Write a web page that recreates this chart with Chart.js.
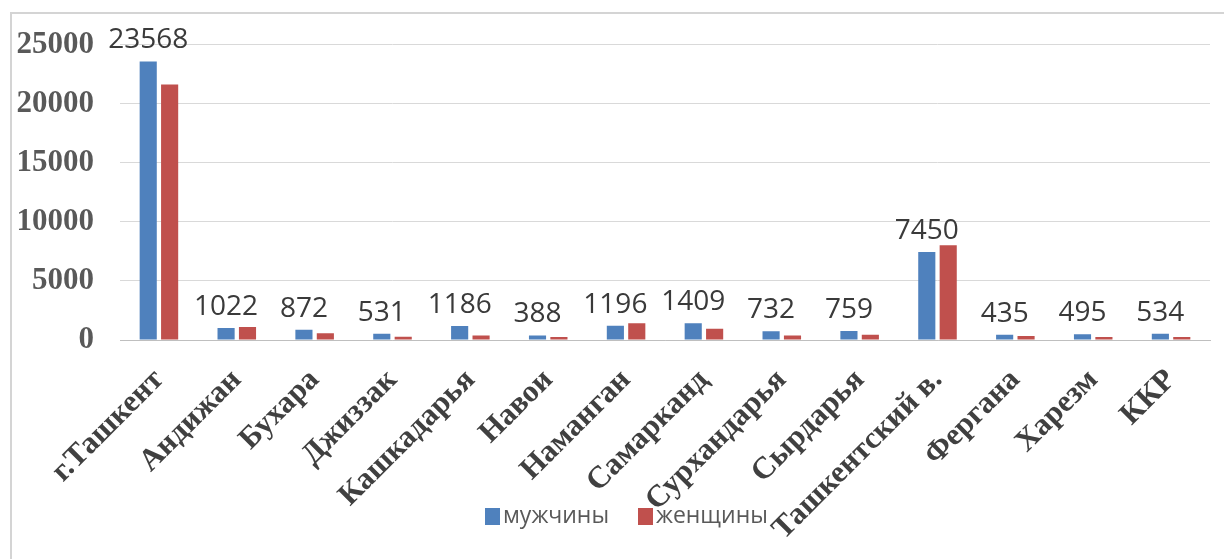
<!DOCTYPE html>
<html>
<head>
<meta charset="utf-8">
<script src="https://cdn.jsdelivr.net/npm/chart.js@4"></script>
<style>
  html, body { margin: 0; padding: 0; background: #ffffff; }
  #wrap { position: relative; width: 1224px; height: 559px; overflow: hidden; }
  #frame { position: absolute; left: 10px; top: 12px; width: 1240px; height: 600px;
           border-top: 2px solid #d4d4d4; border-left: 2px solid #d4d4d4; }
  #chart { position: absolute; left: 0; top: 0; }
  .leg { position: absolute; top: 498px; font-family: "Open Sans", sans-serif;
         font-size: 23px; color: #595959; white-space: nowrap; }
  .leg span.box { display: inline-block; width: 15px; height: 17px; vertical-align: -2px; margin-right: 3px; }
</style>
</head>
<body>
<div id="wrap">
  <div id="frame"></div>
  <canvas id="chart" width="1224" height="559"></canvas>
</div>
<script>
// Регионы
const regions = ["г.Ташкент", "Андижан", "Бухара", "Джиззак", "Кашкадарья", "Навои", "Наманган",
  "Самарканд", "Сурхандарья", "Сырдарья", "Ташкентский в.", "Фергана", "Харезм", "ККР"];

// Значения по сериям
const men = [23568, 1022, 872, 531, 1186, 388, 1196, 1409, 732, 759, 7450, 435, 495, 534];
const women = [21630, 1100, 580, 280, 380, 260, 1420, 960, 380, 450, 8010, 340, 250, 250];

const seriesNames = ["мужчины", "женщины"];
const seriesColors = ["#4F81BD", "#C0504D"];

// Деления оси Y
const yTicks = [0, 5000, 10000, 15000, 20000, 25000];

// Подписи значений над синими столбцами
const valueLabels = {
  id: "valueLabels",
  afterDatasetsDraw(chart) {
    const ctx = chart.ctx;
    const meta = chart.getDatasetMeta(0);
    ctx.save();
    ctx.font = "28px 'Open Sans', sans-serif";
    ctx.fillStyle = "#3a3a3a";
    ctx.textAlign = "center";
    ctx.textBaseline = "bottom";
    meta.data.forEach((bar, i) => {
      ctx.fillText(String(men[i]), bar.x, bar.y - 7);
    });
    ctx.restore();
  }
};

const ctx = document.getElementById("chart").getContext("2d");
new Chart(ctx, {
  type: "bar",
  data: {
    labels: regions,
    datasets: [
      { label: seriesNames[0], data: men, backgroundColor: seriesColors[0] },
      { label: seriesNames[1], data: women, backgroundColor: seriesColors[1] }
    ]
  },
  options: {
    responsive: false,
    animation: false,
    categoryPercentage: 0.55,
    barPercentage: 0.8,
    layout: { padding: { left: 0, right: 14, top: 32, bottom: 0 } },
    plugins: {
      legend: { display: false },
      tooltip: { enabled: false }
    },
    scales: {
      x: {
        grid: { display: false },
        border: { color: "#bfbfbf", width: 1 },
        ticks: {
          autoSkip: false,
          minRotation: 45,
          maxRotation: 45,
          padding: 14,
          color: "#404040",
          font: { family: "'Liberation Serif', serif", size: 31, weight: "bold" }
        },
        afterFit(scale) { scale.height = 219; }
      },
      y: {
        min: 0,
        max: 25000,
        afterBuildTicks(scale) { scale.ticks = yTicks.map(v => ({ value: v })); },
        grid: { color: "#d9d9d9", drawTicks: false },
        border: { display: false },
        ticks: {
          padding: 26,
          color: "#595959",
          font: { family: "'Liberation Serif', serif", size: 31, weight: "bold" },
          callback: (v) => String(v)
        },
        afterFit(scale) { scale.width = 120; }
      }
    }
  },
  plugins: [valueLabels]
});

// Легенда
const legendX = [485, 638];
const wrap = document.getElementById("wrap");
seriesNames.forEach((name, i) => {
  const item = document.createElement("div");
  item.className = "leg";
  item.style.left = legendX[i] + "px";
  item.innerHTML = '<span class="box" style="background:' + seriesColors[i] + '"></span>' + name;
  wrap.appendChild(item);
});
</script>
</body>
</html>
